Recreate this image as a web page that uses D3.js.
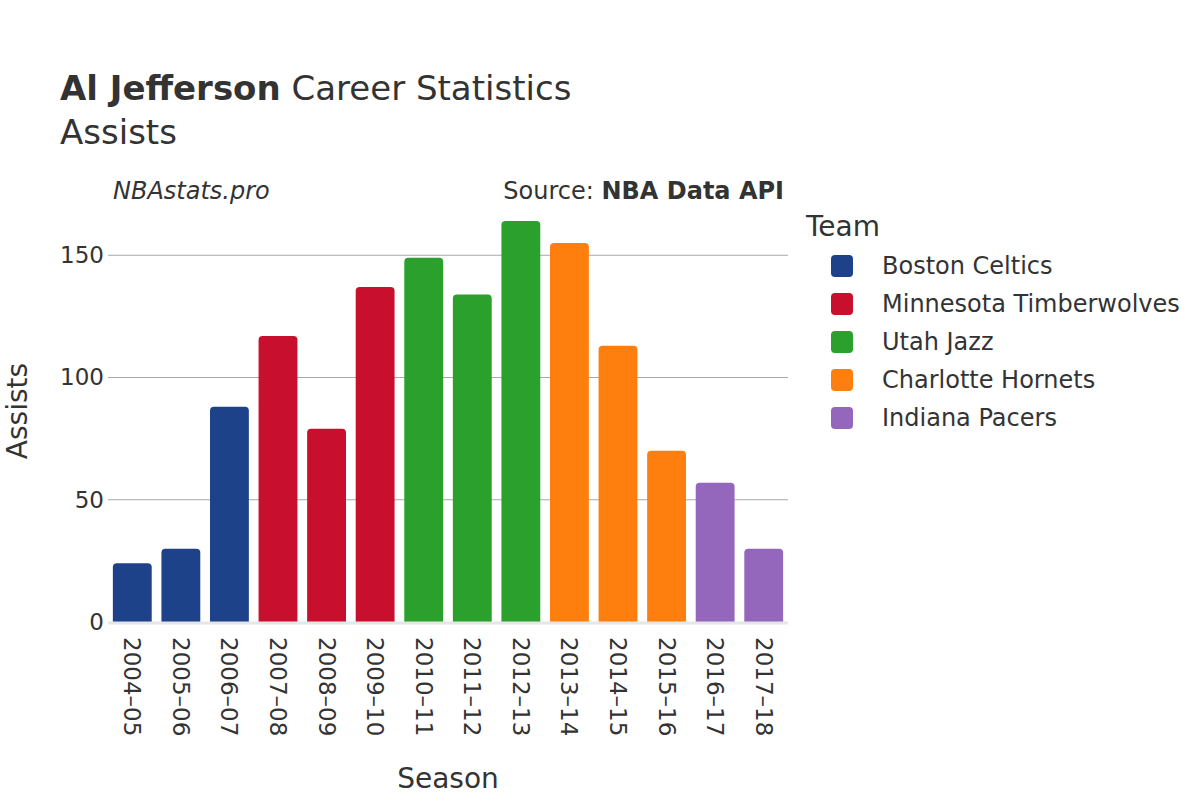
<!DOCTYPE html>
<html>
<head>
<meta charset="utf-8">
<script src="https://cdn.jsdelivr.net/npm/d3@7"></script>
<style>
  body { margin: 0; background: #fff; }
  text { font-family: "DejaVu Sans", sans-serif; fill: #333; }
</style>
</head>
<body>
<svg class="chart"></svg>
<script>
// data
var seasons = ["2004\u201305","2005\u201306","2006\u201307","2007\u201308","2008\u201309","2009\u201310","2010\u201311",
               "2011\u201312","2012\u201313","2013\u201314","2014\u201315","2015\u201316","2016\u201317","2017\u201318"];
var assists = [24, 30, 88, 117, 79, 137, 149, 134, 164, 155, 113, 70, 57, 30];
var teamOf  = ["Boston Celtics","Boston Celtics","Boston Celtics",
               "Minnesota Timberwolves","Minnesota Timberwolves","Minnesota Timberwolves",
               "Utah Jazz","Utah Jazz","Utah Jazz",
               "Charlotte Hornets","Charlotte Hornets","Charlotte Hornets",
               "Indiana Pacers","Indiana Pacers"];
var teams  = ["Boston Celtics","Minnesota Timberwolves","Utah Jazz","Charlotte Hornets","Indiana Pacers"];
var colors = ["#1d428a","#c8102e","#2ca02c","#ff7f0e","#9467bd"];
var yTicks = [0, 50, 100, 150];

var width = 1200, height = 800;

var svg = d3.select(".chart")
            .attr("width", width)
            .attr("height", height);

var x = d3.scaleBand().domain(seasons).range([108, 788]).paddingInner(0.2).paddingOuter(0.1);
var y = d3.scaleLinear().domain([0, 172.6]).range([622, 200]);
var color = d3.scaleOrdinal().domain(teams).range(colors);

var rows = seasons.map(function(s, i){ return {season: s, value: assists[i], team: teamOf[i]}; });

// gridlines
svg.append("g").selectAll("line").data(yTicks.filter(function(d){return d > 0;})).enter()
   .append("line")
   .attr("x1", 108).attr("x2", 788)
   .attr("y1", function(d){return y(d);}).attr("y2", function(d){return y(d);})
   .attr("stroke", "#a8a8a8").attr("stroke-width", 1);

// bars with rounded tops
function barPath(d){
  var x0 = x(d.season), w = x.bandwidth(), y0 = y(0), y1 = y(d.value), r = 4;
  return "M" + x0 + "," + y0 +
         "V" + (y1 + r) +
         "Q" + x0 + "," + y1 + " " + (x0 + r) + "," + y1 +
         "H" + (x0 + w - r) +
         "Q" + (x0 + w) + "," + y1 + " " + (x0 + w) + "," + (y1 + r) +
         "V" + y0 + "Z";
}
svg.append("g").selectAll("path").data(rows).enter()
   .append("path")
   .attr("d", barPath)
   .attr("fill", function(d){return color(d.team);});

// zero line
svg.append("line")
   .attr("x1", 108).attr("x2", 788)
   .attr("y1", y(0) + 1).attr("y2", y(0) + 1)
   .attr("stroke", "#e6e6e6").attr("stroke-width", 3);

// y axis
var yAxis = svg.append("g")
   .attr("transform", "translate(108,0)")
   .call(d3.axisLeft(y).tickValues(yTicks).tickSize(0).tickPadding(4));
yAxis.select(".domain").remove();
yAxis.selectAll("text").style("font-size", "23px").attr("fill", "#333");

// x axis
var xAxis = svg.append("g")
   .attr("transform", "translate(0,632)")
   .call(d3.axisBottom(x).tickSize(0).tickPadding(0));
xAxis.select(".domain").remove();
xAxis.selectAll("text")
   .style("font-size", "23px").attr("fill", "#333")
   .attr("text-anchor", "start")
   .attr("dy", "0.35em")
   .attr("transform", "rotate(90) translate(5,0)")
   .attr("x", 0).attr("y", 0);

// titles
var title = svg.append("text").attr("x", 60).attr("y", 100).style("font-size", "34px");
title.append("tspan").style("font-weight", "bold").text("Al Jefferson");
title.append("tspan").text(" Career Statistics");
svg.append("text").attr("x", 60).attr("y", 144).style("font-size", "34px").text("Assists");

svg.append("text").attr("x", 113).attr("y", 199)
   .style("font-size", "24px").style("font-style", "italic").text("NBAstats.pro");
var src = svg.append("text").attr("x", 784).attr("y", 199)
   .attr("text-anchor", "end").style("font-size", "24px");
src.append("tspan").text("Source: ");
src.append("tspan").style("font-weight", "bold").text("NBA Data API");

svg.append("text").attr("x", 448).attr("y", 788).attr("text-anchor", "middle")
   .style("font-size", "28px").text("Season");
svg.append("text").attr("transform", "translate(27,411) rotate(-90)").attr("text-anchor", "middle")
   .style("font-size", "28px").text("Assists");

// legend
var legend = svg.append("g").attr("transform", "translate(806,0)");
legend.append("text").attr("x", 0).attr("y", 236).style("font-size", "28px").text("Team");
var item = legend.selectAll(".item").data(teams).enter()
   .append("g").attr("class", "item")
   .attr("transform", function(d, i){return "translate(0," + (266 + i * 38) + ")";});
item.append("rect")
   .attr("x", 25).attr("y", -11).attr("width", 22).attr("height", 22)
   .attr("rx", 4).attr("fill", function(d){return color(d);});
item.append("text")
   .attr("x", 76).attr("y", 0).attr("dy", "0.35em")
   .style("font-size", "24px").text(function(d){return d;});
</script>
</body>
</html>
